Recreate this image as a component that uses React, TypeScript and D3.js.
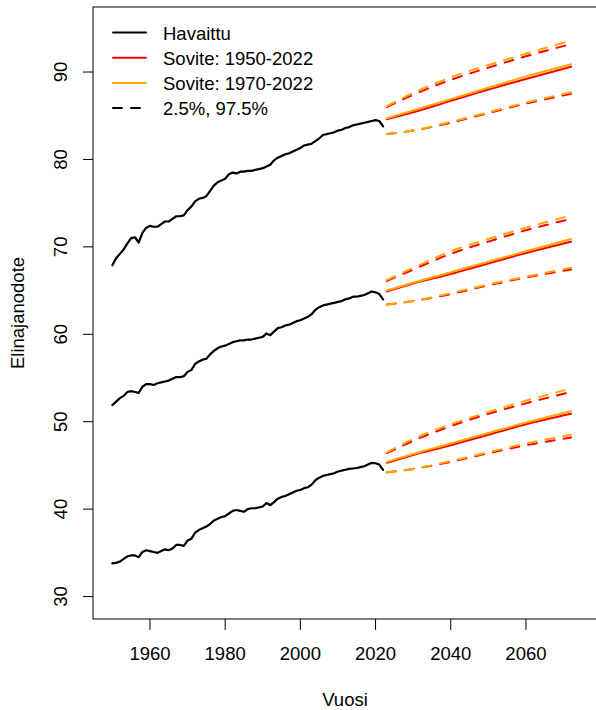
import React from "react";
import * as d3 from "d3";

const startYear = 1950;
const obsTop = [67.9, 68.7, 69.2, 69.7, 70.4, 71.0, 71.1, 70.5, 71.6, 72.2, 72.4, 72.3, 72.3, 72.6, 72.9, 72.9, 73.2, 73.5, 73.5, 73.6, 74.2, 74.6, 75.2, 75.5, 75.6, 75.8, 76.4, 77.0, 77.4, 77.6, 77.8, 78.3, 78.5, 78.4, 78.6, 78.6, 78.7, 78.7, 78.8, 78.9, 79.0, 79.2, 79.4, 79.9, 80.2, 80.4, 80.6, 80.7, 80.9, 81.1, 81.3, 81.6, 81.7, 81.8, 82.1, 82.4, 82.8, 82.9, 83.0, 83.1, 83.3, 83.4, 83.6, 83.7, 83.9, 84.0, 84.1, 84.2, 84.3, 84.4, 84.5, 84.4, 83.8];
const obsMid = [51.9, 52.3, 52.7, 52.95, 53.4, 53.5, 53.4, 53.3, 54.0, 54.3, 54.3, 54.2, 54.4, 54.5, 54.6, 54.7, 54.9, 55.1, 55.1, 55.2, 55.7, 55.9, 56.6, 56.9, 57.1, 57.2, 57.7, 58.1, 58.4, 58.6, 58.7, 58.9, 59.1, 59.2, 59.3, 59.3, 59.4, 59.4, 59.5, 59.6, 59.7, 60.1, 59.9, 60.3, 60.7, 60.8, 61.0, 61.1, 61.3, 61.5, 61.6, 61.8, 62.0, 62.3, 62.8, 63.1, 63.3, 63.4, 63.5, 63.6, 63.7, 63.8, 64.0, 64.1, 64.3, 64.3, 64.4, 64.5, 64.7, 64.9, 64.8, 64.6, 64.0];
const obsBot = [33.8, 33.85, 34.0, 34.3, 34.6, 34.7, 34.7, 34.5, 35.1, 35.3, 35.2, 35.1, 35.0, 35.2, 35.4, 35.3, 35.5, 35.9, 35.9, 35.8, 36.4, 36.6, 37.3, 37.6, 37.8, 38.0, 38.3, 38.7, 38.9, 39.1, 39.2, 39.5, 39.8, 39.9, 39.8, 39.7, 40.0, 40.1, 40.1, 40.2, 40.3, 40.7, 40.45, 40.8, 41.2, 41.4, 41.5, 41.7, 41.9, 42.1, 42.2, 42.4, 42.5, 42.8, 43.3, 43.6, 43.8, 43.9, 44.0, 44.1, 44.3, 44.4, 44.5, 44.6, 44.65, 44.7, 44.8, 44.9, 45.1, 45.3, 45.25, 45.1, 44.5];

const fcYears = [2023, 2030, 2040, 2050, 2060, 2072];
// Sovite 1950-2022 (red)
const redTopMed = [84.6, 85.4, 86.7, 88.0, 89.2, 90.6];
const redTopHi = [86.0, 87.4, 89.1, 90.5, 91.8, 93.2];
const redTopLo = [82.9, 83.3, 84.2, 85.3, 86.4, 87.5];
const redMidMed = [64.9, 65.8, 66.9, 68.1, 69.3, 70.6];
const redMidHi = [66.1, 67.4, 69.2, 70.6, 71.9, 73.2];
const redMidLo = [63.4, 63.8, 64.6, 65.6, 66.5, 67.4];
const redBotMed = [45.3, 46.2, 47.3, 48.5, 49.7, 50.9];
const redBotHi = [46.4, 47.8, 49.5, 50.9, 52.1, 53.4];
const redBotLo = [44.2, 44.6, 45.4, 46.4, 47.3, 48.2];
// Sovite 1970-2022 (orange)
const orTopMed = [84.7, 85.6, 86.9, 88.2, 89.5, 90.9];
const orTopHi = [86.1, 87.6, 89.4, 90.8, 92.1, 93.6];
const orTopLo = [82.9, 83.3, 84.3, 85.4, 86.5, 87.7];
const orMidMed = [65.0, 65.9, 67.1, 68.3, 69.5, 70.9];
const orMidHi = [66.2, 67.6, 69.5, 70.9, 72.2, 73.6];
const orMidLo = [63.4, 63.8, 64.7, 65.7, 66.6, 67.6];
const orBotMed = [45.4, 46.3, 47.5, 48.7, 49.9, 51.2];
const orBotHi = [46.5, 48.0, 49.7, 51.1, 52.4, 53.8];
const orBotLo = [44.2, 44.6, 45.5, 46.5, 47.5, 48.5];

const xTicks = [1960, 1980, 2000, 2020, 2040, 2060];
const yTicks = [30, 40, 50, 60, 70, 80, 90];
const legendLabels = ["Havaittu", "Sovite: 1950-2022", "Sovite: 1970-2022", "2.5%, 97.5%"];

const FONT = "'Liberation Sans', Arial, sans-serif";

export default function App() {
  const W = 596, H = 710;
  const left = 93, right = 597, top = 7, bottom = 619;
  const x = d3.scaleLinear().domain([1944.85, 2078.9]).range([left, right]);
  const y = d3.scaleLinear().domain([27.43, 97.44]).range([bottom, top]);

  const obsLine = d3.line<number>().x((_, i) => x(startYear + i)).y((v) => y(v));
  const fcLine = d3
    .line<number>()
    .x((_, i) => x(fcYears[i]))
    .y((v) => y(v))
    .curve(d3.curveMonotoneX);

  const redSets = [
    [redTopMed, redTopHi, redTopLo],
    [redMidMed, redMidHi, redMidLo],
    [redBotMed, redBotHi, redBotLo],
  ];
  const orSets = [
    [orTopMed, orTopHi, orTopLo],
    [orMidMed, orMidHi, orMidLo],
    [orBotMed, orBotHi, orBotLo],
  ];

  const renderSet = (sets: number[][][], color: string, key: string) =>
    sets.map((s, gi) =>
      s.map((arr, k) => (
        <path
          key={`${key}-${gi}-${k}`}
          d={fcLine(arr) || ""}
          fill="none"
          stroke={color}
          strokeWidth={2}
          strokeLinecap="round"
          strokeDasharray={k === 0 ? undefined : "9,9"}
        />
      ))
    );

  const legendColors = ["#000000", "#ff0000", "#ffa500", "#000000"];
  const legendY0 = 32.5;
  const legendStep = 25.2;

  return (
    <svg
      width={W}
      height={H}
      style={{ position: "absolute", left: 0, top: 0, background: "#fff" }}
      fontFamily={FONT}
    >
      <rect x={0} y={0} width={W} height={H} fill="#fff" />
      {/* box */}
      <rect x={left} y={top} width={right - left} height={bottom - top} fill="none" stroke="#000" strokeWidth={1} />
      {/* y axis ticks */}
      {yTicks.map((t) => (
        <g key={`y${t}`}>
          <line x1={left - 10} x2={left} y1={y(t)} y2={y(t)} stroke="#000" />
          <text
            transform={`translate(67,${y(t)}) rotate(-90)`}
            textAnchor="middle"
            fontSize={18.5}
            fill="#000"
          >
            {t}
          </text>
        </g>
      ))}
      {/* x axis ticks */}
      {xTicks.map((t) => (
        <g key={`x${t}`}>
          <line x1={x(t)} x2={x(t)} y1={bottom} y2={bottom + 11} stroke="#000" />
          <text x={x(t)} y={660} textAnchor="middle" fontSize={18.5} fill="#000">
            {t}
          </text>
        </g>
      ))}
      <text x={(left + right) / 2} y={706} textAnchor="middle" fontSize={18.5} fill="#000">
        Vuosi
      </text>
      <text transform={`translate(24,${(top + bottom) / 2}) rotate(-90)`} textAnchor="middle" fontSize={18.5} fill="#000">
        Elinajanodote
      </text>

      {/* observed */}
      {[obsTop, obsMid, obsBot].map((arr, i) => (
        <path key={`obs${i}`} d={obsLine(arr) || ""} fill="none" stroke="#000" strokeWidth={2.2} strokeLinejoin="round" strokeLinecap="round" />
      ))}
      {renderSet(redSets, "#ff0000", "red")}
      {renderSet(orSets, "#ffa500", "or")}

      {/* legend */}
      {legendLabels.map((lab, i) => {
        const ly = legendY0 + i * legendStep;
        return (
          <g key={lab}>
            <line
              x1={113}
              x2={146}
              y1={ly}
              y2={ly}
              stroke={legendColors[i]}
              strokeWidth={2}
              strokeLinecap="round"
              strokeDasharray={i === 3 ? "9,9" : undefined}
            />
            <text x={163} y={ly + 7} fontSize={18.5} fill="#000">
              {lab}
            </text>
          </g>
        );
      })}
    </svg>
  );
}
